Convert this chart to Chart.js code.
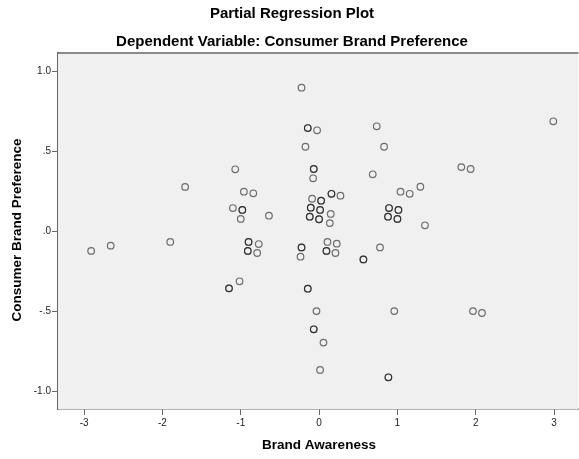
<!DOCTYPE html>
<html>
<head>
<meta charset="utf-8">
<script src="https://cdn.jsdelivr.net/npm/chart.js@4"></script>
<style>
html,body{margin:0;padding:0;background:#fff;overflow:hidden;}
#wrap{width:579px;height:459px;position:relative;overflow:hidden;}
#c{position:absolute;left:0;top:0;}
</style>
</head>
<body>
<div id="wrap"><canvas id="c" width="583" height="459"></canvas></div>
<script>
// Observations (repeated entries = overlapping observations drawn darker)
const brandAwareness = [
  -2.91, -2.66, -1.90, -1.71, -1.07, -0.96, -0.84, -1.10, -1.00, -0.64,
  -0.77, -0.79, -1.015, -0.224, 2.99, -0.025, 0.736, -0.174, 0.83, -0.076,
  0.685, 1.816, 1.935, 0.273, -0.089, 0.149, 0.137, 1.04, 1.157, 1.293,
  1.352, -0.237, 0.107, 0.226, 0.209, 0.778, -0.033, 0.96, 1.965, 2.08,
  0.056, 0.013,
  -0.98, -0.98, -0.90, -0.90, -0.91, -0.91, -1.15, -1.15, -0.144, -0.144,
  -0.068, -0.068, 0.158, 0.158, 0.026, 0.026, -0.106, -0.106, 0.013, 0.013,
  -0.119, -0.119, 0.0, 0.0, 1.013, 1.013, 0.88, 0.88, 1.0, 1.0,
  -0.224, -0.224, 0.094, 0.094, 0.566, 0.566, -0.144, -0.144, -0.068, -0.068,
  0.885, 0.885, 0.893, 0.893
];
const brandPreference = [
  -0.12, -0.087, -0.064, 0.28, 0.39, 0.25, 0.24, 0.148, 0.08, 0.10,
  -0.077, -0.133, -0.31, 0.90, 0.69, 0.634, 0.659, 0.531, 0.531, 0.334,
  0.359, 0.404, 0.392, 0.225, 0.206, 0.111, 0.054, 0.25, 0.237, 0.281,
  0.04, -0.156, -0.064, -0.075, -0.133, -0.098, -0.496, -0.496, -0.496, -0.508,
  -0.693, -0.864,
  0.136, 0.136, -0.064, -0.064, -0.12, -0.12, -0.354, -0.354, 0.648, 0.648,
  0.392, 0.392, 0.237, 0.237, 0.194, 0.194, 0.15, 0.15, 0.136, 0.136,
  0.094, 0.094, 0.078, 0.078, 0.136, 0.136, 0.094, 0.094, 0.08, 0.08,
  -0.098, -0.098, -0.12, -0.12, -0.173, -0.173, -0.356, -0.356, -0.61, -0.61,
  -0.91, -0.91, 0.148, 0.148
];
const xTickValues = [-3, -2, -1, 0, 1, 2, 3];
const xTickLabels = ["-3", "-2", "-1", "0", "1", "2", "3"];
const yTickValues = [-1, -0.5, 0, 0.5, 1];
const yTickLabels = ["-1.0", "-.5", ".0", ".5", "1.0"];
const titleLine1 = "Partial Regression Plot";
const titleLine2 = "Dependent Variable: Consumer Brand Preference";
const xAxisTitle = "Brand Awareness";
const yAxisTitle = "Consumer Brand Preference";

const points = brandAwareness.map((x, i) => ({x: x, y: brandPreference[i]}));
const FONT = '"Liberation Sans", Arial, sans-serif';

const framePlugin = {
  id: 'frame',
  beforeDatasetsDraw(chart) {
    const {ctx, chartArea: a} = chart;
    ctx.save();
    ctx.fillStyle = '#f0f0f0';
    ctx.fillRect(a.left, a.top, a.right - a.left, a.bottom - a.top);
    ctx.restore();
  },
  afterDraw(chart) {
    const {ctx, chartArea: a} = chart;
    ctx.save();
    ctx.strokeStyle = '#666';
    ctx.lineWidth = 1.5;
    ctx.beginPath();
    ctx.moveTo(a.left, a.top);
    ctx.lineTo(a.right, a.top);
    ctx.stroke();
    ctx.fillStyle = '#000';
    ctx.textAlign = 'center';
    ctx.textBaseline = 'middle';
    ctx.font = 'bold 15px ' + FONT;
    ctx.fillText(titleLine1, 292, 14);
    ctx.fillText(titleLine2, 292, 42);
    ctx.font = 'bold 13.5px ' + FONT;
    ctx.fillText(xAxisTitle, 319, 445);
    ctx.translate(17, 230);
    ctx.rotate(-Math.PI / 2);
    ctx.fillText(yAxisTitle, 0, 0);
    ctx.restore();
  }
};

new Chart(document.getElementById('c'), {
  type: 'scatter',
  data: {
    datasets: [{
      data: points,
      pointRadius: 3.3,
      pointBorderWidth: 1.2,
      pointBackgroundColor: 'rgba(0,0,0,0)',
      pointBorderColor: 'rgba(0,0,0,0.55)',
      pointHoverRadius: 3.3
    }]
  },
  options: {
    responsive: false,
    animation: false,
    events: [],
    layout: {padding: {top: 53, right: 0, left: 0, bottom: 0}},
    plugins: {legend: {display: false}, tooltip: {enabled: false}, title: {display: false}},
    scales: {
      x: {
        type: 'linear',
        min: -3.333,
        max: 3.312,
        afterFit(s) { s.height = 50; },
        afterBuildTicks(s) { s.ticks = xTickValues.map(v => ({value: v})); },
        border: {display: true, color: '#666', width: 1.5},
        grid: {drawOnChartArea: false, drawTicks: true, tickLength: 6, color: '#666', tickWidth: 1},
        ticks: {
          padding: 2,
          color: '#222',
          font: {family: FONT, size: 10},
          maxRotation: 0,
          callback: (v) => xTickLabels[xTickValues.indexOf(v)]
        }
      },
      y: {
        type: 'linear',
        min: -1.108,
        max: 1.117,
        afterFit(s) { s.width = 58; },
        afterBuildTicks(s) { s.ticks = yTickValues.map(v => ({value: v})); },
        border: {display: true, color: '#666', width: 1.5},
        grid: {drawOnChartArea: false, drawTicks: true, tickLength: 6, color: '#666', tickWidth: 1},
        ticks: {
          padding: 1,
          color: '#222',
          font: {family: FONT, size: 10},
          callback: (v) => yTickLabels[yTickValues.indexOf(v)]
        }
      }
    }
  },
  plugins: [framePlugin]
});
</script>
</body>
</html>
